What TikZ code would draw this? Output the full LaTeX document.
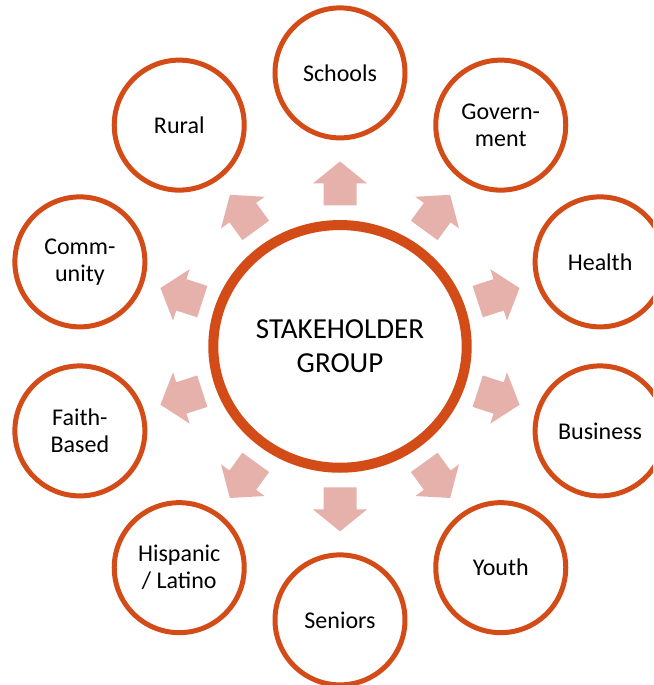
\documentclass[tikz,border=0pt]{standalone}
\usepackage{fontspec}
\setmainfont{Carlito}
\usetikzlibrary{shapes.geometric}
\definecolor{ringorange}{RGB}{211,75,23}
\definecolor{arrowpink}{RGB}{230,177,171}
\begin{document}
\begin{tikzpicture}[x=1pt,y=1pt,
  hubnode/.style={ellipse, draw=ringorange, line width=10pt, fill=white,
    minimum width=253.4pt, minimum height=242.7pt, inner sep=0pt,
    align=center, font=\fontsize{29}{34}\selectfont},
  spoke/.style={circle, draw=ringorange, line width=5pt, fill=white,
    minimum size=130pt, inner sep=0pt, align=center,
    font=\fontsize{24}{27}\selectfont},
  blockarrow/.style={fill=arrowpink}]
  \useasboundingbox (-340,-338.6) rectangle (313,346.4);
  \clip (-340,-338.6) rectangle (313,346.4);

  % central group
  \node[hubnode] (hub) at (0,0) {STAKEHOLDER\\GROUP};

  % surrounding stakeholder circles, clockwise from the top
  \foreach \k/\name/\txt in {0/schools/Schools, 1/gov/{Govern-\\ment},
      2/health/Health, 3/business/Business, 4/youth/Youth,
      5/seniors/Seniors, 6/hispanic/{Hispanic\\{/} Latino},
      7/faith/{Faith-\\Based}, 8/community/{Comm-\\unity}, 9/rural/Rural}
    \node[spoke] (\name) at ({90-36*\k}:273.5) {\txt};

  % block arrows pointing out from the hub towards each circle
  \foreach \k in {0,...,9}{
    \pgfmathsetmacro{\ang}{90-36*\k}
    \pgfmathsetmacro{\b}{141+4*abs(cos(\ang))}
    \begin{scope}[shift={(hub.center)}, rotate=\ang]
      \fill[blockarrow] (\b,-16.5) -- ({\b+22},-16.5) -- ({\b+22},-27)
        -- ({\b+44},0) -- ({\b+22},27) -- ({\b+22},16.5) -- (\b,16.5) -- cycle;
    \end{scope}
  }
\end{tikzpicture}
\end{document}
